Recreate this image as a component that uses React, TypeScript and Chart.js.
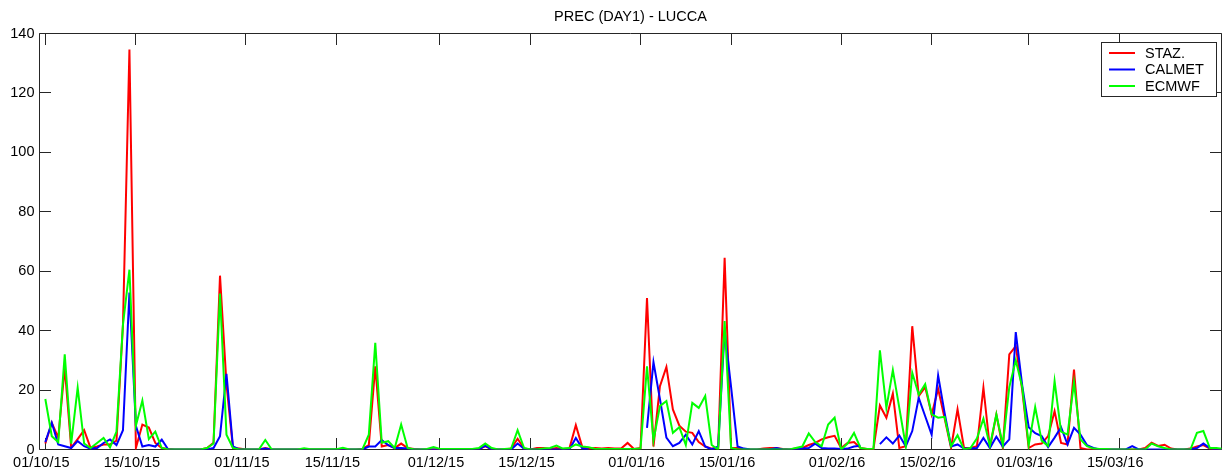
import { useEffect, useRef } from 'react';
import { Chart, registerables } from 'chart.js';

Chart.register(...registerables);

// ---------- data ----------
const TITLE = 'PREC (DAY1) - LUCCA';
const SERIES_NAMES = ['STAZ.', 'CALMET', 'ECMWF'];
const SERIES_COLORS = ['#ff0000', '#0000ff', '#00ff00'];

// x values are day offsets from 01/10/2015
const TICK_DAYS = [0, 14, 31, 45, 61, 75, 92, 106, 123, 137, 152, 166];
const TICK_LABELS = [
  '01/10/15', '15/10/15', '01/11/15', '15/11/15', '01/12/15', '15/12/15',
  '01/01/16', '15/01/16', '01/02/16', '15/02/16', '01/03/16', '15/03/16',
];
const Y_TICKS = [0, 20, 40, 60, 80, 100, 120, 140];

const STAZ = [
  2, 9, 4, 27.6, 0.6, 3.5, 6.5, 0.5, 1, 1.7,
  1.7, 3, 42, 134.6, 0.5, 8.4, 7.4, 2.2, 0.5, 0.2,
  0, 0, 0, 0, 0, 0.5, 2.3, 58.5, 22, 0.5,
  0.3, 0, 0, 0, 0.5, 0, 0, 0, 0, 0,
  0, 0, 0, 0, 0, 0, 0, 0, 0, 0.2,
  1.5, 28, 1, 1.5, 0.5, 2, 0.5, 0.2, 0, 0,
  0, 0, 0.2, 0.2, 0, 0, 0, 0.2, 1.1, 0.2,
  0, 0, 0.3, 3.6, 0.3, 0, 0.5, 0.5, 0.2, 0.5,
  0.2, 0.3, 8.2, 0.8, 0.3, 0.5, 0.3, 0.5, 0.3, 0.3,
  2.2, 0.2, 0.5, 51, 1, 21.3, 27.8, 13.5, 8, 6,
  5.6, 2.5, 1, 0.3, 0.5, 64.5, 0.5, 0.5, 0.2, 0,
  0, 0.3, 0.5, 0.5, 0.2, 0, 0.3, 0.5, 1.5, 2.2,
  3.4, 4.1, 4.6, 0.5, 2.2, 2.5, 0.5, 0.2, 0.2, 14.8,
  10.7, 18.8, 0.5, 1.1, 41.5, 18, 21, 11.8, 20.4, 10.5,
  0.5, 13.5, 0.5, 0.5, 1.1, 20.8, 0.5, 11.8, 0.5, 32,
  34.8, 20, 0.5, 1.7, 2, 4.5, 12.9, 2.2, 1.7, 26.9,
  0.5, 0, 0, 0, 0, 0, 0, 0, 0, 0,
  0.5, 2.3, 1.2, 1.6, 0.3, 0, 0, 0.3, 1, 1.5,
  0.3, 0, 0,
];

const CALMET = [
  2.5, 9, 1.7, 1.1, 0.5, 2.8, 1.1, 0.3, 0.5, 2.2,
  3.4, 1.5, 6.5, 52.8, 8, 1, 1.5, 1, 3.3, 0,
  0, 0, 0, 0, 0, 0, 0.5, 4.5, 25.5, 1,
  0, 0, 0, 0, 0.3, 0, 0, 0, 0, 0,
  0, 0, 0, 0, 0, 0, 0, 0, 0, 0,
  1, 1, 3.2, 1.5, 0.5, 0.5, 0.3, 0, 0, 0,
  0, 0, 0, 0, 0, 0, 0, 0, 1.3, 0,
  0, 0, 0, 2, 0.2, 0, 0, 0, 0, 0,
  0, 0, 3.9, 0.3, 0, null, null, null, null, null,
  null, null, null, 7.3, 29.4, 17, 4, 1.1, 2.2, 5,
  1.7, 6.2, 1, 0, 1, 40, 21, 1, 0.3, 0,
  0, 0, 0, 0.5, 0, 0, 0, 0.3, 0.5, 2,
  0.5, 0.3, 0.3, 0.2, 0.3, 1, 1.3, null, null, 1.8,
  4.1, 2, 4.7, 1.1, 6.2, 17.4, 11.2, 5, 24.9, 12.3,
  1, 1.7, 0.3, 0.3, 0.5, 3.9, 0.5, 4.3, 1, 3.4,
  39.5, 21.5, 7.5, 5.5, 4.5, 0.8, 4, 7.5, 1.7, 7.3,
  5, 1.5, 0.5, 0, 0, 0, 0, 0, 1.1, 0,
  0, 0, 0, 0, 0, 0, 0, 0, 0.5, 2,
  0.5, 0, 0,
];

const ECMWF = [
  17, 4.5, 2.5, 32, 2, 20.8, 2, 0.5, 2.2, 3.9,
  0.7, 6, 42, 60.5, 8, 16.5, 3.5, 6, 0.5, 0,
  0, 0, 0, 0, 0, 0.5, 2, 52.5, 5, 0.5,
  0, 0, 0, 0, 3.2, 0, 0, 0, 0, 0,
  0.4, 0.1, 0.1, 0.1, 0.1, 0.1, 0.6, 0, 0, 0,
  5, 35.9, 2.3, 2.8, 0.5, 8.4, 0.5, 0, 0, 0.2,
  0.8, 0.2, 0.2, 0.2, 0.2, 0.2, 0.2, 0.5, 2, 0.5,
  0, 0.2, 0.3, 6.5, 0.5, 0, 0, 0.3, 0.5, 1.3,
  0.3, 0.5, 1.7, 1, 0.8, 0.2, 0.2, 0.2, 0.2, 0.2,
  0.2, 0.2, 0.3, 28, 3, 14.6, 16.3, 5.6, 7.5, 1.5,
  15.7, 14, 18, 1.5, 0, 43.2, 0.5, 0, 0, 0,
  0, 0, 0, 0, 0, 0, 0.5, 1, 5.4, 2.5,
  1.1, 8.4, 10.7, 0, 2, 5.6, 0.5, 0.2, 0.2, 33.4,
  14, 26.7, 14, 1.1, 25.8, 18.5, 22, 11.8, 10.7, 11,
  1.1, 4.8, 0, 0.5, 3.8, 10.4, 1.2, 11.8, 1.5, 21,
  30, 21, 1.5, 14.3, 3, 1.2, 23, 6, 5, 22.6,
  3.4, 1.1, 0.3, 0.2, 0.2, 0, 0, 0, 0, 0,
  0, 2, 1.1, 0.5, 0, 0, 0, 0, 5.6, 6.2,
  0.5, 0.5, 0.2,
];

const DAYS = STAZ.map((_, i) => i);
const SERIES = [STAZ, CALMET, ECMWF];

// ---------- style ----------
const W = 1223;
const H = 472;
const X_MIN = -0.9;
const X_MAX = 181.8;
const FONT_FAMILY = "'Liberation Sans', Arial, Helvetica, sans-serif";
const FONT_SIZE = 14.5;
const AXIS_COLOR = '#262626';
const TICK_LEN = 11.5;

const framePlugin = {
  id: 'matlabFrame',
  beforeDatasetsDraw(chart: any) {
    const { ctx, chartArea, scales } = chart;
    const { left, right, top, bottom } = chartArea;
    ctx.save();
    ctx.strokeStyle = AXIS_COLOR;
    ctx.lineWidth = 1;
    ctx.beginPath();
    ctx.rect(left, top, right - left, bottom - top);
    TICK_DAYS.forEach((d) => {
      const px = Math.round(scales.x.getPixelForValue(d) - 0.5) + 0.5;
      ctx.moveTo(px, bottom);
      ctx.lineTo(px, bottom - TICK_LEN);
      ctx.moveTo(px, top);
      ctx.lineTo(px, top + TICK_LEN);
    });
    Y_TICKS.forEach((v) => {
      const py = Math.round(scales.y.getPixelForValue(v) - 0.5) + 0.5;
      ctx.moveTo(left, py);
      ctx.lineTo(left + TICK_LEN, py);
      ctx.moveTo(right, py);
      ctx.lineTo(right - TICK_LEN, py);
    });
    ctx.stroke();
    ctx.restore();
  },
  afterDatasetsDraw(chart: any) {
    const { ctx, chartArea } = chart;
    ctx.save();
    // legend box
    const bx = 1101.5;
    const by = 42.5;
    const bw = 115;
    const bh = 54;
    ctx.fillStyle = '#ffffff';
    ctx.fillRect(bx, by, bw, bh);
    ctx.strokeStyle = AXIS_COLOR;
    ctx.lineWidth = 1;
    ctx.strokeRect(bx, by, bw, bh);
    ctx.font = `${FONT_SIZE}px ${FONT_FAMILY}`;
    ctx.textBaseline = 'middle';
    ctx.textAlign = 'left';
    SERIES_NAMES.forEach((name, i) => {
      const y = 53 + i * 16.5;
      ctx.strokeStyle = SERIES_COLORS[i];
      ctx.lineWidth = 2;
      ctx.beginPath();
      ctx.moveTo(1109, y);
      ctx.lineTo(1135, y);
      ctx.stroke();
      ctx.fillStyle = '#000000';
      ctx.fillText(name, 1145, y + 0.5);
    });
    // title
    ctx.textAlign = 'center';
    ctx.textBaseline = 'middle';
    ctx.fillStyle = '#000000';
    ctx.font = `${FONT_SIZE}px ${FONT_FAMILY}`;
    ctx.fillText(TITLE, (chartArea.left + chartArea.right) / 2, 17);
    ctx.restore();
  },
};

export default function App() {
  const ref = useRef<HTMLCanvasElement | null>(null);

  useEffect(() => {
    if (!ref.current) return;
    const font = { family: FONT_FAMILY, size: FONT_SIZE };
    const chart = new Chart(ref.current, {
      type: 'line',
      data: {
        labels: DAYS,
        datasets: SERIES.map((values, i) => ({
          label: SERIES_NAMES[i],
          data: values,
          borderColor: SERIES_COLORS[i],
          backgroundColor: SERIES_COLORS[i],
          borderWidth: 2,
          pointRadius: 0,
          pointHoverRadius: 0,
          tension: 0,
          fill: false,
          spanGaps: false,
          order: 3 - i,
        })),
      },
      options: {
        responsive: false,
        animation: false,
        devicePixelRatio: 1,
        events: [],
        layout: { padding: { top: 33.5, right: 1.5, bottom: 0, left: 0 } },
        plugins: {
          legend: { display: false },
          tooltip: { enabled: false },
          title: { display: false },
        },
        scales: {
          x: {
            type: 'linear',
            min: X_MIN,
            max: X_MAX,
            grid: { display: false, drawTicks: false },
            border: { display: false },
            afterBuildTicks: (scale: any) => {
              scale.ticks = TICK_DAYS.map((v) => ({ value: v }));
            },
            afterFit: (scale: any) => {
              scale.height = 22.5;
            },
            ticks: {
              autoSkip: false,
              maxRotation: 0,
              minRotation: 0,
              padding: 5,
              labelOffset: -4,
              color: '#000000',
              font,
              callback: (value: any) => {
                const idx = TICK_DAYS.indexOf(Number(value));
                return idx >= 0 ? TICK_LABELS[idx] : '';
              },
            },
          },
          y: {
            type: 'linear',
            min: 0,
            max: 140,
            grid: { display: false, drawTicks: false },
            border: { display: false },
            afterBuildTicks: (scale: any) => {
              scale.ticks = Y_TICKS.map((v) => ({ value: v }));
            },
            afterFit: (scale: any) => {
              scale.width = 39.5;
            },
            ticks: {
              padding: 5,
              color: '#000000',
              font,
            },
          },
        },
      } as any,
      plugins: [framePlugin],
    });
    return () => chart.destroy();
  }, []);

  return (
    <div style={{ position: 'fixed', left: 0, top: 0, width: W, height: H, background: '#ffffff' }}>
      <canvas ref={ref} width={W} height={H} style={{ display: 'block', width: W, height: H }} />
    </div>
  );
}
